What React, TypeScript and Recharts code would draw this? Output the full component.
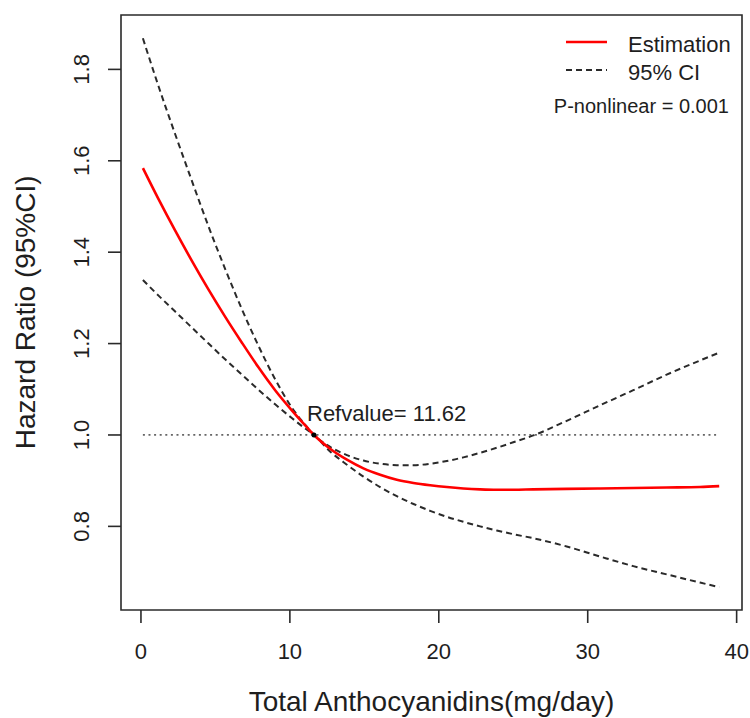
import React from "react";
import {
  LineChart,
  Line,
  XAxis,
  YAxis,
  ReferenceLine,
  ReferenceDot,
  ReferenceArea,
  Legend,
  Label,
} from "recharts";

const xValues = [0.13, 1.18, 2.3, 3.42, 4.54, 5.67, 6.78, 7.89, 9.01, 10.13, 11.03, 11.62, 12.7, 13.83, 14.94, 16.06, 17.18, 18.3, 19.42, 20.54, 21.65, 22.77, 23.89, 25.0, 26.35, 28.59, 30.83, 33.06, 35.3, 37.54, 38.83];
const estimation = [1.584, 1.516, 1.447, 1.381, 1.318, 1.258, 1.202, 1.148, 1.098, 1.054, 1.021, 1.0, 0.97, 0.946, 0.927, 0.913, 0.902, 0.895, 0.89, 0.886, 0.883, 0.881, 0.88, 0.88, 0.881, 0.882, 0.883, 0.884, 0.885, 0.886, 0.888];
const upperCI = [1.868, 1.763, 1.658, 1.556, 1.456, 1.362, 1.275, 1.195, 1.122, 1.06, 1.022, 1.0, 0.974, 0.956, 0.944, 0.937, 0.934, 0.934, 0.937, 0.943, 0.951, 0.961, 0.972, 0.984, 0.999, 1.031, 1.065, 1.098, 1.132, 1.163, 1.18];
const lowerCI = [1.339, 1.305, 1.27, 1.235, 1.2, 1.165, 1.132, 1.099, 1.067, 1.037, 1.014, 1.0, 0.964, 0.935, 0.909, 0.886, 0.866, 0.849, 0.834, 0.821, 0.81, 0.8, 0.791, 0.783, 0.774, 0.756, 0.734, 0.713, 0.695, 0.677, 0.667];

const xTicks = [0, 10, 20, 30, 40];
const yTicks = [0.8, 1.0, 1.2, 1.4, 1.6, 1.8];
const refValue = 11.62;
const refLabel = "Refvalue= 11.62";
const pNonlinear = "P-nonlinear = 0.001";
const xTitle = "Total Anthocyanidins(mg/day)";
const yTitle = "Hazard Ratio (95%CI)";

const X_DOMAIN: [number, number] = [-1.34, 40.36];
const Y_DOMAIN: [number, number] = [0.617, 1.919];

const FONT = "'Liberation Sans', Arial, Helvetica, sans-serif";
const TEXT = "#1e1e1e";
const DARK = "#2a2a2a";
const DASH = "6 4";

const data = xValues.map((x, i) => ({
  x,
  est: estimation[i],
  upper: upperCI[i],
  lower: lowerCI[i],
}));

const XTick = (p: any) => (
  <text x={p.x} y={p.y} dy={34} textAnchor="middle" fontSize={22} fontFamily={FONT} fill={TEXT}>
    {p.payload.value}
  </text>
);

const YTick = (p: any) => {
  const bx = p.x - 16.7;
  return (
    <text
      x={bx}
      y={p.y}
      textAnchor="middle"
      fontSize={22}
      fontFamily={FONT}
      fill={TEXT}
      transform={`rotate(-90, ${bx}, ${p.y})`}
    >
      {Number(p.payload.value).toFixed(1)}
    </text>
  );
};

const LegendContent = () => (
  <svg width={200} height={100} style={{ display: "block" }}>
    <line x1={26} x2={67} y1={22} y2={22} stroke="#ff0000" strokeWidth={2.5} />
    <text x={88} y={32} fontSize={22} fontFamily={FONT} fill={TEXT}>Estimation</text>
    <line x1={26} x2={67} y1={50} y2={50} stroke={DARK} strokeWidth={2} strokeDasharray={DASH} />
    <text x={88} y={60} fontSize={22} fontFamily={FONT} fill={TEXT}>95% CI</text>
    <text x={189} y={93} fontSize={20} fontFamily={FONT} fill={TEXT} textAnchor="end">{pNonlinear}</text>
  </svg>
);

export default function App() {
  return (
    <div style={{ width: 742, height: 710 }}>
      <style>{`body { margin-right: 0 !important; } #root { width: 742px; } .recharts-surface { overflow: visible !important; } .recharts-wrapper { overflow: visible !important; }`}</style>
      <LineChart
        width={742}
        height={710}
        data={data}
        margin={{ top: 7, right: 8, bottom: 48, left: 53 }}
      >
        <XAxis
          type="number"
          dataKey="x"
          domain={X_DOMAIN}
          allowDataOverflow
          ticks={xTicks}
          interval={0}
          axisLine={false}
          tickSize={13}
          tickLine={{ stroke: DARK, strokeWidth: 1.6 }}
          tick={XTick}
          height={60}
        >
          <Label
            content={(props: any) => {
              const vb = props.viewBox;
              return (
                <text
                  x={vb.x + vb.width / 2}
                  y={703}
                  textAnchor="middle"
                  fontSize={28}
                  fontFamily={FONT}
                  fill={TEXT}
                >
                  {xTitle}
                </text>
              );
            }}
          />
        </XAxis>
        <YAxis
          type="number"
          domain={Y_DOMAIN}
          allowDataOverflow
          ticks={yTicks}
          interval={0}
          axisLine={false}
          tickSize={13}
          tickLine={{ stroke: DARK, strokeWidth: 1.6 }}
          tick={YTick}
          width={60}
        >
          <Label
            content={() => {
              const cx = 27;
              const cy = 7 + (601.7 - 7) / 2;
              return (
                <text
                  x={cx}
                  y={cy}
                  textAnchor="middle"
                  fontSize={28}
                  fontFamily={FONT}
                  fill={TEXT}
                  transform={`rotate(-90, ${cx}, ${cy})`}
                >
                  {yTitle}
                </text>
              );
            }}
          />
        </YAxis>
        <ReferenceArea
          x1={X_DOMAIN[0]}
          x2={X_DOMAIN[1]}
          y1={Y_DOMAIN[0]}
          y2={Y_DOMAIN[1]}
          fill="none"
          fillOpacity={0}
          stroke={DARK}
          strokeWidth={1.6}
          ifOverflow="visible"
        />
        <ReferenceLine
          segment={[
            { x: xValues[0], y: 1 },
            { x: xValues[xValues.length - 1], y: 1 },
          ]}
          stroke="#666666"
          strokeWidth={1.8}
          strokeDasharray="2 3.6"
        />
        <Line
          type="monotone"
          dataKey="upper"
          name="95% CI"
          stroke={DARK}
          strokeWidth={2}
          strokeDasharray={DASH}
          dot={false}
          isAnimationActive={false}
        />
        <Line
          type="monotone"
          dataKey="lower"
          name="95% CI lower"
          legendType="none"
          stroke={DARK}
          strokeWidth={2}
          strokeDasharray={DASH}
          dot={false}
          isAnimationActive={false}
        />
        <Line
          type="monotone"
          dataKey="est"
          name="Estimation"
          stroke="#ff0000"
          strokeWidth={2.6}
          dot={false}
          isAnimationActive={false}
        />
        <ReferenceDot
          x={refValue}
          y={1}
          r={2.5}
          fill="#000000"
          stroke="none"
          label={(props: any) => {
            const vb = props.viewBox;
            const cx = vb.x + vb.width / 2;
            const cy = vb.y + vb.height / 2;
            return (
              <text x={cx - 7} y={cy - 13.7} fontSize={22} fontFamily={FONT} fill={TEXT}>
                {refLabel}
              </text>
            );
          }}
        />
        <Legend
          layout="horizontal"
          verticalAlign="middle"
          align="center"
          content={LegendContent}
          wrapperStyle={{ position: "absolute", left: 532, top: 12, width: 200, height: 100 }}
        />
      </LineChart>
    </div>
  );
}
